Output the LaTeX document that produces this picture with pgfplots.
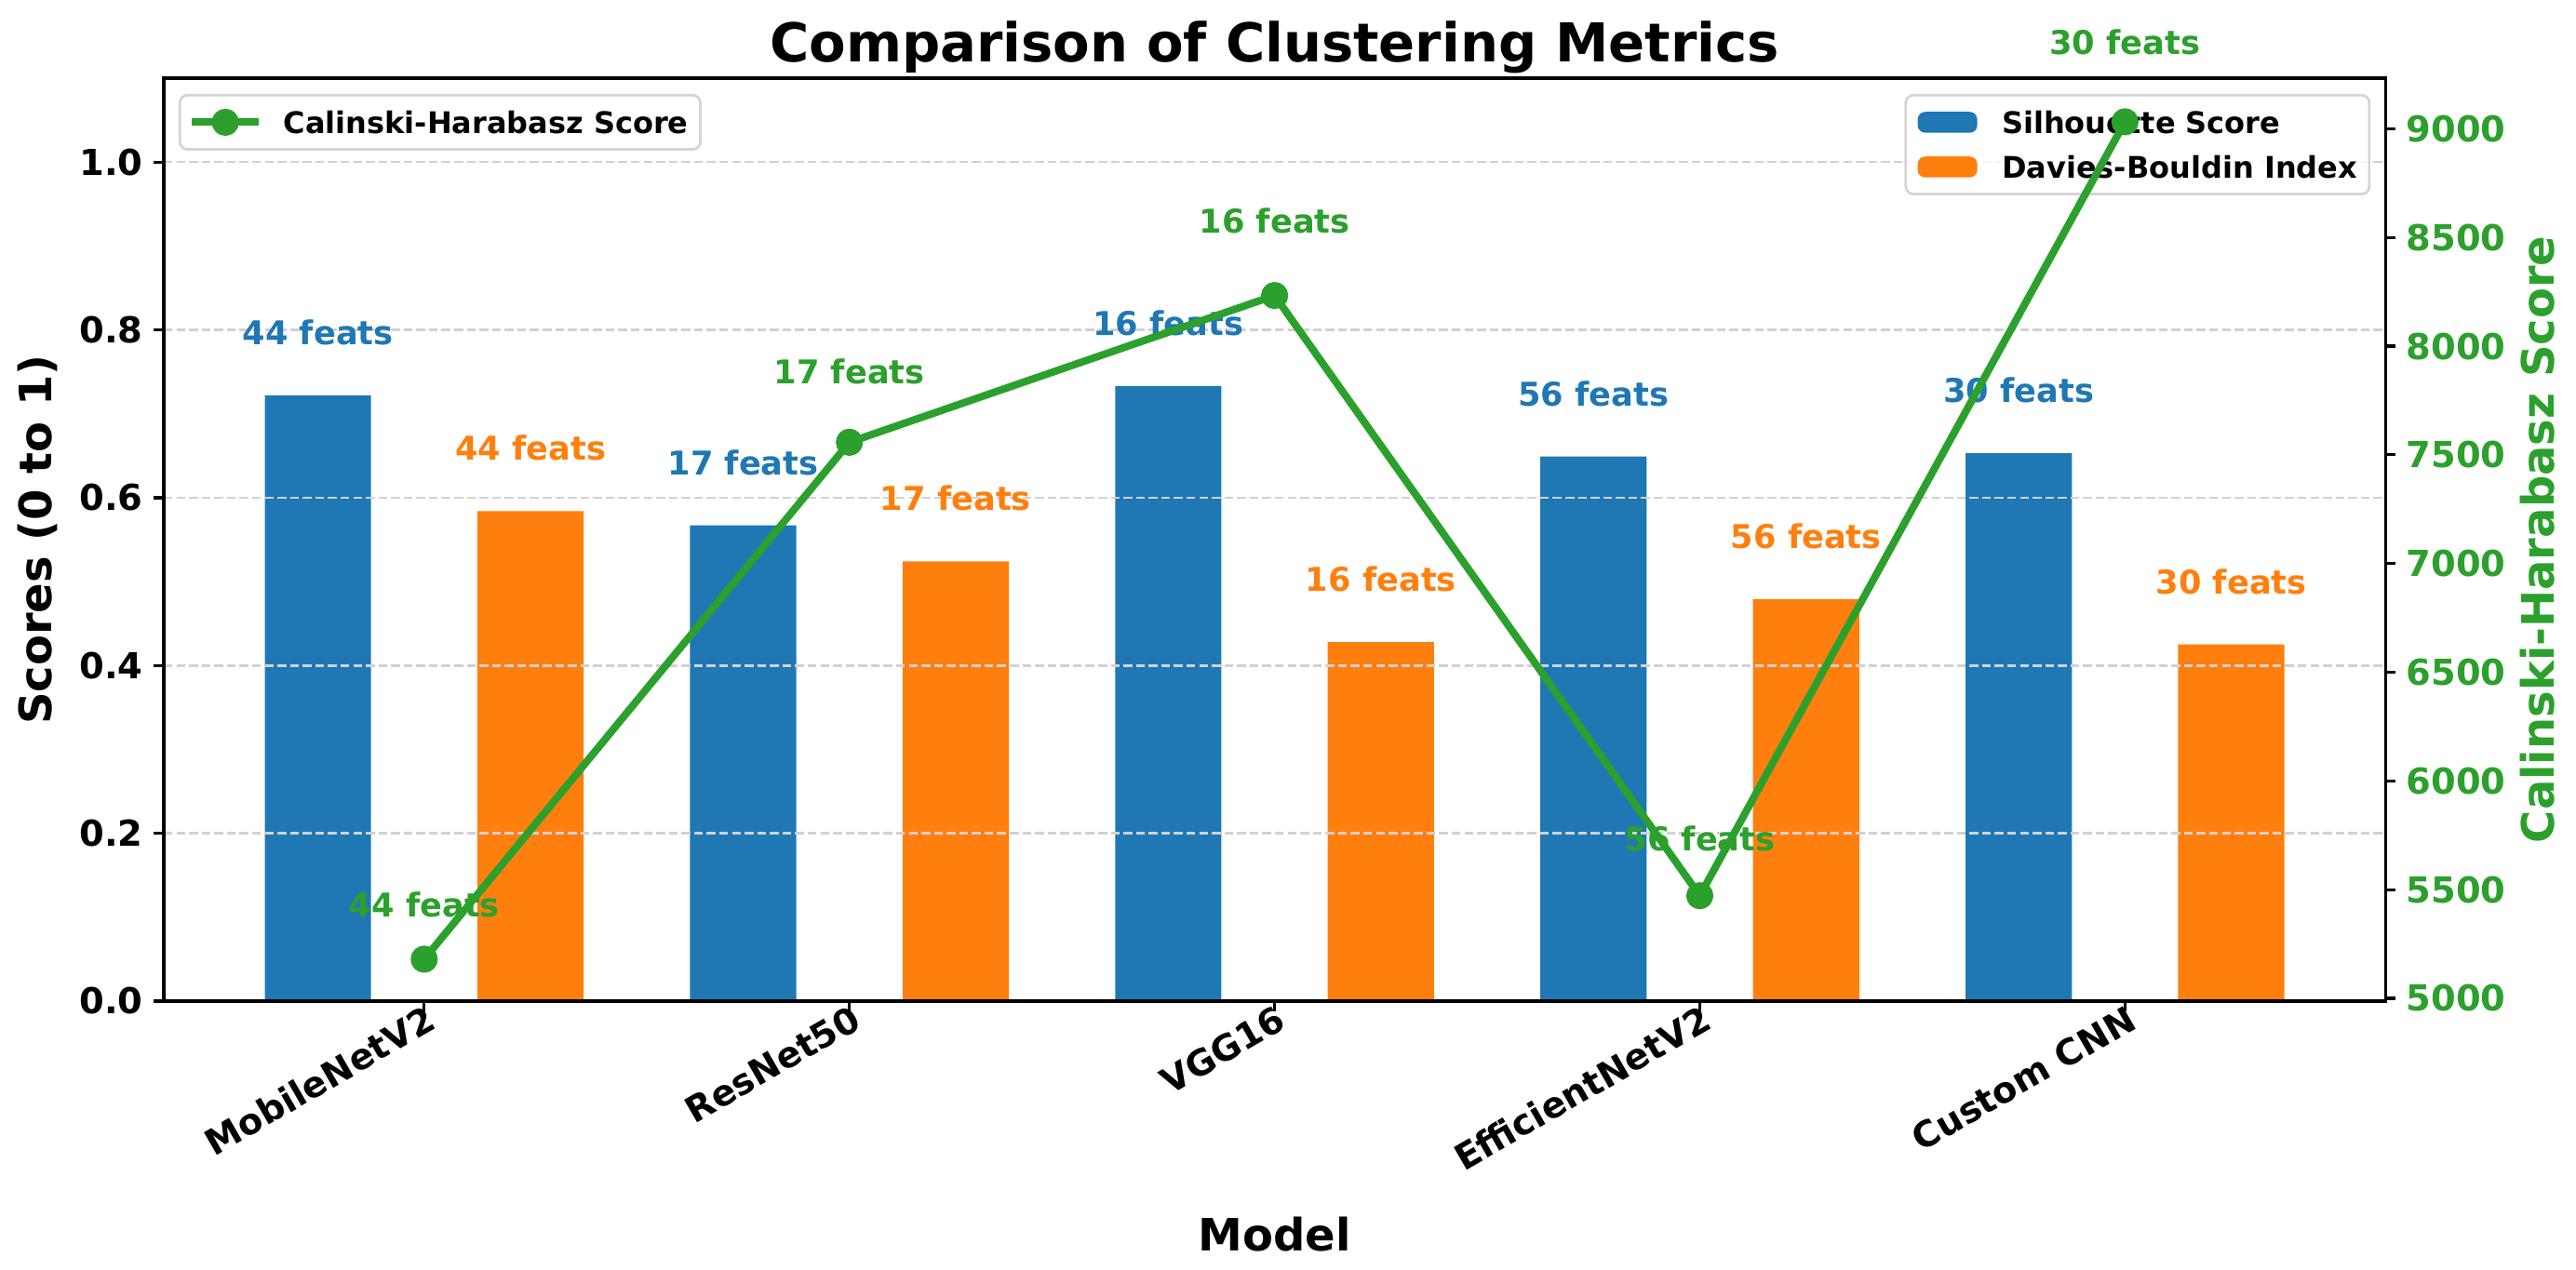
\documentclass[border=0pt]{standalone}
\usepackage{fontspec}
\setmainfont{DejaVu Sans}
\usepackage{pgfplots}
\pgfplotsset{compat=1.18}
\usepackage{pgfplotstable}
\definecolor{tabblue}{HTML}{1F77B4}
\definecolor{taborange}{HTML}{FF7F0E}
\definecolor{tabgreen}{HTML}{2CA02C}

\pgfplotstableread{
x sil db ch chlab feats
0 0.722 0.584 5180 5335 44
1 0.567 0.524 7558 7785 17
2 0.733 0.428 8233 8480 16
3 0.649 0.479 5472 5636 56
4 0.653 0.425 9032 9303 30
}\datatab

\tikzset{lbl/.style={font=\fontsize{11}{13}\selectfont\bfseries, anchor=south, inner sep=0pt}}
\pgfplotsset{
  barlegend/.style={legend image code/.code={\fill[##1, fill opacity=1] (0pt,-3.5pt) rectangle (20pt,3.5pt);}},
  linelegend/.style={legend image code/.code={\draw[##1, draw opacity=1, fill opacity=1, line cap=rect, mark repeat=2, mark phase=2] plot coordinates {(0pt,0pt) (10pt,0pt) (20pt,0pt)};}},
  mylegend/.style={legend style={font=\fontsize{10}{12}\selectfont\bfseries, draw=black!17, line width=0.85pt,
      rounded corners=2.5pt, fill=white, fill opacity=0.8, text opacity=1, draw opacity=1,
      inner xsep=4pt, inner ysep=1.6pt, nodes={inner xsep=0pt, inner ysep=3.7pt, text depth=0pt}, column sep=8.3pt},
      legend cell align=left},
}

\begin{document}
\begin{tikzpicture}
\path[use as bounding box] (-55pt,-90pt) rectangle (810pt,336.25pt);
\begin{axis}[
  scale only axis, width=746pt, height=310pt,
  at={(0pt,0pt)}, anchor=south west,
  xmin=-0.6125, xmax=4.6125, ymin=0, ymax=1.1,
  axis on top,
  axis line style={line width=1pt, black},
  xtick={0,1,2,3,4},
  xticklabels={MobileNetV2,ResNet50,VGG16,EfficientNetV2,Custom CNN},
  ytick={0,0.2,0.4,0.6,0.8,1.0},
  yticklabel style={/pgf/number format/fixed, /pgf/number format/fixed zerofill, /pgf/number format/precision=1},
  xtick pos=bottom, ytick pos=left,
  tick align=outside, major tick length=3.5pt,
  every tick/.style={black, line width=1pt},
  /pgf/number format/assume math mode=true,
  tick label style={font=\fontsize{12}{14}\selectfont\bfseries},
  xticklabel style={rotate=30, anchor=north east, inner sep=0pt, xshift=1.5pt, yshift=2.3pt, font=\fontsize{12}{14}\selectfont\bfseries},
  ymajorgrids,
  major grid style={color=black!18, line width=0.8pt, dash pattern=on 2.96pt off 1.28pt},
  every axis title shift=0pt,
  title={Comparison of Clustering Metrics},
  title style={font=\fontsize{18}{22}\selectfont\bfseries, at={(axis description cs:0.5,1.018)}, anchor=base},
  xlabel={Model},
  xlabel style={font=\fontsize{15}{18}\selectfont\bfseries, at={(axis description cs:0.5,-0.271)}, anchor=base},
  ylabel={Scores (0 to 1)},
  ylabel style={font=\fontsize{15}{18}\selectfont\bfseries, at={(axis description cs:-0.0566,0.5)}, anchor=center},
  mylegend,
  legend style={at={(0.9933,0.9829)}, anchor=north east},
]
\addplot[ybar, bar width=0.25, bar shift=-0.25, fill=tabblue, draw=none, barlegend,
  point meta=explicit symbolic, nodes near coords={\pgfplotspointmeta{} feats},
  every node near coord/.append style={lbl, text=tabblue, xshift=-35.7pt, yshift=16.7pt}]
  table[x=x, y=sil, meta=feats] {\datatab};
\addlegendentry{Silhouette Score}
\addplot[ybar, bar width=0.25, bar shift=0.25, fill=taborange, draw=none, barlegend,
  point meta=explicit symbolic, nodes near coords={\pgfplotspointmeta{} feats},
  every node near coord/.append style={lbl, text=taborange, xshift=35.7pt, yshift=16.7pt}]
  table[x=x, y=db, meta=feats] {\datatab};
\addlegendentry{Davies-Bouldin Index}
\end{axis}

\begin{axis}[
  scale only axis, width=746pt, height=310pt,
  at={(0pt,0pt)}, anchor=south west,
  xmin=-0.6125, xmax=4.6125, ymin=4987, ymax=9233,
  axis y line*=right, axis x line=none,
  axis line style={line width=1pt, black},
  ytick={5000,5500,6000,6500,7000,7500,8000,8500,9000},
  tick align=outside, major tick length=3.5pt,
  every tick/.style={black, line width=1pt},
  /pgf/number format/assume math mode=true,
  /pgf/number format/1000 sep={},
  yticklabel style={font=\fontsize{12}{14}\selectfont\bfseries, text=tabgreen},
  ylabel={Calinski-Harabasz Score},
  ylabel style={font=\fontsize{15}{18}\selectfont\bfseries, text=tabgreen, at={(axis description cs:1.0684,0.5)}, anchor=center},
  clip=false,
  mylegend,
  legend style={at={(0.0067,0.9829)}, anchor=north west},
]
\addplot[tabgreen, line width=2.5pt, line join=round, mark=*, mark size=3.3pt, mark options={solid}, linelegend]
  table[x=x, y=ch] {\datatab};
\addlegendentry{Calinski-Harabasz Score}
\addplot[draw=none, mark=none, forget plot,
  point meta=explicit symbolic, nodes near coords={\pgfplotspointmeta{} feats},
  every node near coord/.append style={lbl, text=tabgreen, yshift=2.6pt}]
  table[x=x, y=chlab, meta=feats] {\datatab};
\end{axis}
\end{tikzpicture}
\end{document}
